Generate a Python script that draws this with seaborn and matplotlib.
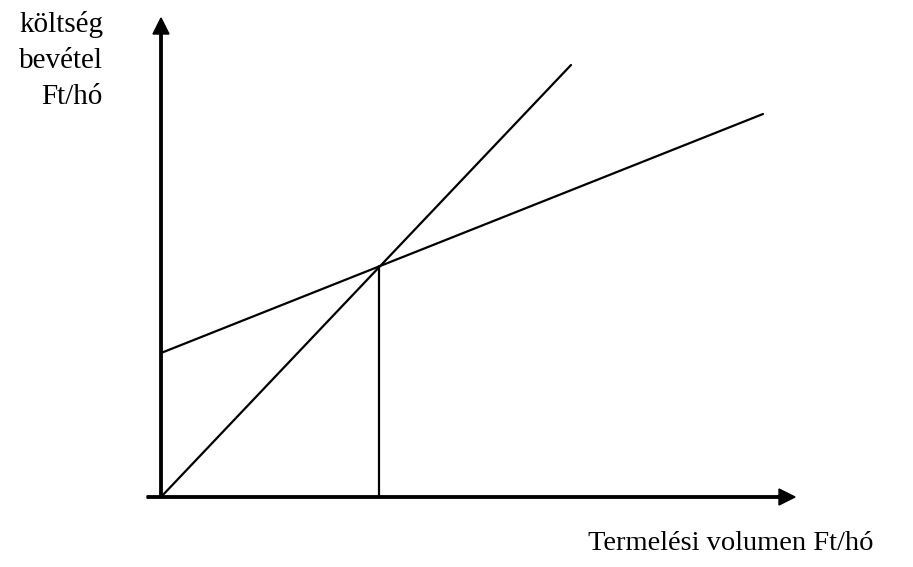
import matplotlib
matplotlib.use("Agg")
import matplotlib.pyplot as plt
import pandas as pd
import seaborn as sns

sns.set_theme(style="white")
plt.rcParams["font.family"] = ["Liberation Serif", "DejaVu Serif"]
plt.rcParams["text.color"] = "black"

# break-even chart, units chosen so one unit is about one pixel
revenue_x = [0, 410]
revenue_y = [0, 432]
cost_x = [0, 602]
cost_y = [144, 383]
breakeven_x = [218, 218]
breakeven_y = [0, 231]

y_label_lines = ["költség", "bevétel", "Ft/hó"]
x_label = "Termelési volumen Ft/hó"

fig = plt.figure(figsize=(9.13, 5.67), dpi=100)
ax = fig.add_axes([0, 0, 1, 1])
ax.set_xlim(-161, 752)
ax.set_ylim(-70, 497)
ax.axis("off")

lines = pd.concat([
    pd.DataFrame({"x": revenue_x, "y": revenue_y, "kind": "bevétel"}),
    pd.DataFrame({"x": cost_x, "y": cost_y, "kind": "költség"}),
    pd.DataFrame({"x": breakeven_x, "y": breakeven_y, "kind": "fedezeti pont"}),
])
sns.lineplot(data=lines, x="x", y="y", units="kind", estimator=None, sort=False,
             color="black", linewidth=1.6, ax=ax, legend=False)

# axes with arrow heads
ax.arrow(0, 0, 0, 479, width=2.4, head_width=16, head_length=16,
         length_includes_head=True, color="black", zorder=3)
ax.arrow(-14, 0, 648, 0, width=2.4, head_width=16, head_length=16,
         length_includes_head=True, color="black", zorder=3)

for i, txt in enumerate(y_label_lines):
    ax.text(-58, 465 - 36 * i, txt, ha="right", va="baseline", fontsize=21)
ax.text(712, -53, x_label, ha="right", va="baseline", fontsize=20.5)

fig.savefig("out.png", dpi=100)
